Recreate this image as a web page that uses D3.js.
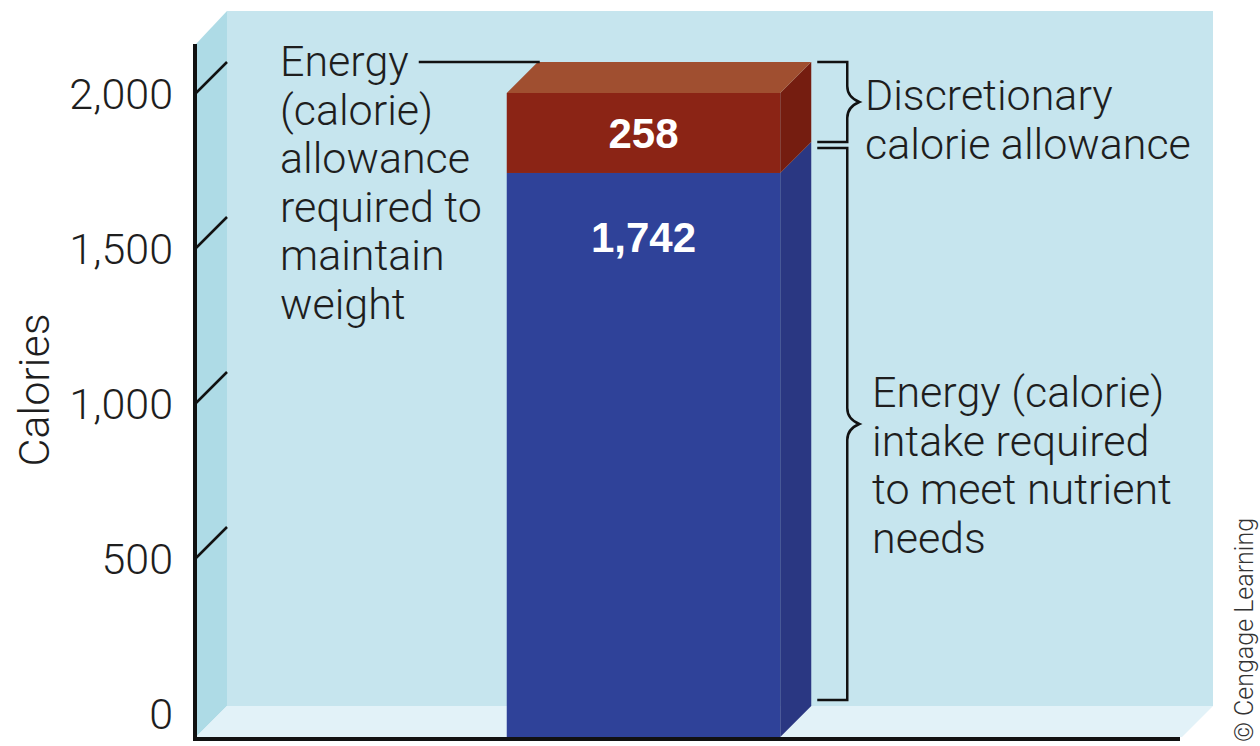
<!DOCTYPE html>
<html>
<head>
	<title></title>
	<script src="https://d3js.org/d3.v7.min.js" charset="utf-8"></script>
	<style type="text/css">
		body { margin: 0; background: #fff; }
		svg text { font-family: Roboto, 'Liberation Sans', sans-serif; }
		.note { font-size: 43px; font-weight: 300; fill: #1e1e1e; }
		.tick-label { font-size: 43px; font-weight: 300; fill: #1e1e1e; }
		.value { font-family: 'Liberation Sans', Arial, sans-serif !important; font-size: 42px; font-weight: bold; fill: #fff; }
	</style>
</head>
<body>
	<div id="chart"></div>
	<script type="text/javascript">
		// data
		var categories = ["Daily intake"];
		var segments = ["needs", "discretionary"];
		var values = [1742, 258];
		var valueLabels = ["1,742", "258"];
		var tickValues = [0, 500, 1000, 1500, 2000];
		var leftNote = ["Energy", "(calorie)", "allowance", "required to", "maintain", "weight"];
		var topNote = ["Discretionary", "calorie allowance"];
		var bottomNote = ["Energy (calorie)", "intake required", "to meet nutrient", "needs"];

		var W = 1260, H = 746;
		var DX = 31, DY = 31;          // depth of the 3d box
		var axisX = 196, floorFront = 737;
		var wallRight = 1213, wallTop = 11;

		var colors = {
			needs: { front: "#2f4299", side: "#2a3782", top: "#3a4fa8" },
			discretionary: { front: "#8b2415", side: "#751d10", top: "#a04f30" }
		};

		var svg = d3.select('#chart').append('svg')
			.attr('width', W)
			.attr('height', H);

		var y = d3.scaleLinear().domain([0, 2000]).range([713, 93]);
		var x = d3.scaleBand().domain(categories).range([370, 917])
			.paddingInner(0).paddingOuter(0.5);

		// background box: back wall, left wall, floor
		svg.append('rect')
			.attr('x', axisX + DX).attr('y', wallTop)
			.attr('width', wallRight - axisX - DX).attr('height', floorFront - DY - wallTop)
			.attr('fill', '#c6e5ee');
		svg.append('polygon')
			.attr('points', [[axisX, wallTop + DY + 2], [axisX + DX, wallTop], [axisX + DX, floorFront - DY], [axisX, floorFront]].join(' '))
			.attr('fill', '#aedbe6');
		svg.append('polygon')
			.attr('points', [[axisX + DX, floorFront - DY], [wallRight, floorFront - DY], [wallRight - DX, floorFront], [axisX, floorFront]].join(' '))
			.attr('fill', '#e2f2f8');

		// stacked bar
		var row = {};
		segments.forEach(function(s, i){ row[s] = values[i]; });
		var stacked = d3.stack().keys(segments)([row]);

		var bx = x(categories[0]), bw = x.bandwidth();
		var bar = svg.append('g');

		stacked.forEach(function(layer, i){
			var d = layer[0];
			var yt = y(d[1]);
			var yb = d[0] === 0 ? floorFront : y(d[0]);
			var c = colors[layer.key];
			bar.append('rect')
				.attr('x', bx).attr('y', yt)
				.attr('width', bw).attr('height', yb - yt)
				.attr('fill', c.front);
			bar.append('polygon')
				.attr('points', [[bx + bw, yt], [bx + bw + DX, yt - DY], [bx + bw + DX, yb - DY], [bx + bw, yb]].join(' '))
				.attr('fill', c.side);
			if (i === stacked.length - 1) {
				bar.append('polygon')
					.attr('points', [[bx, yt], [bx + DX, yt - DY], [bx + bw + DX, yt - DY], [bx + bw, yt]].join(' '))
					.attr('fill', c.top);
			}
		});

		// value labels
		var ymid258 = (y(stacked[1][0][1]) + y(stacked[1][0][0])) / 2;
		bar.append('text').attr('class', 'value')
			.attr('x', bx + bw / 2).attr('y', ymid258 + 15)
			.attr('text-anchor', 'middle').text(valueLabels[1]);
		bar.append('text').attr('class', 'value')
			.attr('x', bx + bw / 2).attr('y', y(stacked[0][0][1]) + 79)
			.attr('text-anchor', 'middle').text(valueLabels[0]);

		// axis lines + slanted ticks on the left wall
		svg.append('line')
			.attr('x1', axisX - 1).attr('y1', wallTop + DY + 2)
			.attr('x2', axisX - 1).attr('y2', floorFront + 4)
			.attr('stroke', '#111').attr('stroke-width', 4);
		svg.append('line')
			.attr('x1', axisX - 3).attr('y1', floorFront + 2)
			.attr('x2', wallRight - DX - 2).attr('y2', floorFront + 2)
			.attr('stroke', '#111').attr('stroke-width', 4);

		svg.selectAll('.tick')
			.data(tickValues.filter(function(v){ return v > 0; }))
			.enter().append('line')
			.attr('x1', axisX).attr('y1', function(d){ return y(d); })
			.attr('x2', axisX + DX).attr('y2', function(d){ return y(d) - DY; })
			.attr('stroke', '#111').attr('stroke-width', 2.5);

		svg.selectAll('.tick-label')
			.data(tickValues)
			.enter().append('text')
			.attr('class', 'tick-label')
			.attr('x', 173)
			.attr('y', function(d){ return y(d) + 16; })
			.attr('text-anchor', 'end')
			.text(d3.format(','));

		svg.append('text').attr('class', 'note')
			.attr('transform', 'translate(49,390) rotate(-90)')
			.attr('text-anchor', 'middle')
			.text('Calories');

		// left annotation with leader line
		var left = svg.append('g');
		leftNote.forEach(function(t, i){
			left.append('text').attr('class', 'note')
				.attr('x', 280).attr('y', 76 + i * 48.5).text(t);
		});
		var firstLen = left.select('text').node().getComputedTextLength();
		svg.append('line')
			.attr('x1', 280 + firstLen + 10).attr('y1', y(2000) - DY)
			.attr('x2', bx + DX + 2).attr('y2', y(2000) - DY)
			.attr('stroke', '#111').attr('stroke-width', 2.5);

		// braces on the right
		function brace(y0, y1){
			var xa = bx + bw + DX + 6, xb = xa + 30, xt = xb + 12, ym = (y0 + y1) / 2;
			return 'M' + xa + ',' + y0 + 'H' + xb + 'V' + (ym - 16) +
				'Q' + xb + ',' + (ym - 5) + ' ' + xt + ',' + ym +
				'Q' + xb + ',' + (ym + 5) + ' ' + xb + ',' + (ym + 16) +
				'V' + y1 + 'H' + xa;
		}
		svg.append('path')
			.attr('d', brace(y(2000) - DY, y(values[0]) - DY))
			.attr('fill', 'none').attr('stroke', '#111').attr('stroke-width', 2.5);
		svg.append('path')
			.attr('d', brace(y(values[0]) - DY + 6, floorFront - DY - 6))
			.attr('fill', 'none').attr('stroke', '#111').attr('stroke-width', 2.5);

		topNote.forEach(function(t, i){
			svg.append('text').attr('class', 'note')
				.attr('x', 865).attr('y', 110 + i * 48.5).text(t);
		});
		bottomNote.forEach(function(t, i){
			svg.append('text').attr('class', 'note')
				.attr('x', 872).attr('y', 407 + i * 48.5).text(t);
		});

		svg.append('text')
			.attr('transform', 'translate(1253,742) rotate(-90)')
			.style('font-size', '25px').style('font-weight', 300).style('fill', '#333')
			.text('\u00a9 Cengage Learning');
	</script>
</body>
</html>
